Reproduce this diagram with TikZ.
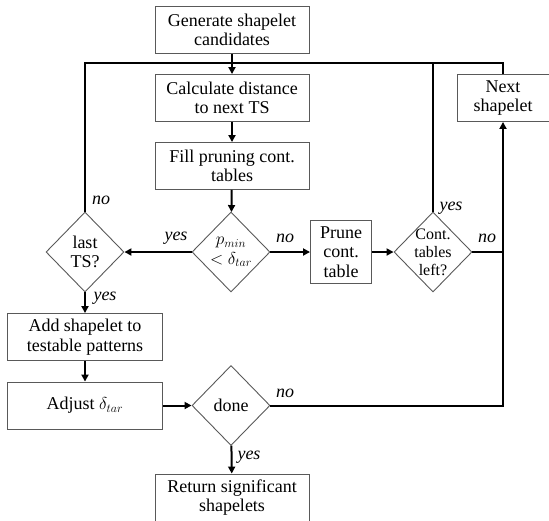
\documentclass[tikz,border=0pt]{standalone}
\usepackage{fontspec}
\setmainfont{Liberation Serif}
\usetikzlibrary{shapes.geometric,arrows.meta,positioning,calc}

\begin{document}
\begin{tikzpicture}[x=1pt, y=-1pt,
    font=\fontsize{18}{19.5}\selectfont, every node/.style={align=center},
    procbox/.style={draw=black!65, line width=0.9pt, minimum width=154pt,
                    minimum height=47pt, inner sep=2pt},
    decision/.style={diamond, draw=black!65, line width=0.9pt, minimum width=78pt,
                     minimum height=80pt, inner sep=-2pt},
    flow/.style={line width=2pt, -{Triangle[length=7pt,width=7pt]}},
    link/.style={line width=2pt},
    ans/.style={font=\fontsize{18}{19.5}\selectfont\itshape, inner sep=0pt}]
  \useasboundingbox (0,0) rectangle (549,520);

  % main column
  \node[procbox] (gen)  at (232,30)  {Generate shapelet\\candidates};
  \node[procbox] (calc) at (232,98)  {Calculate distance\\to next TS};
  \node[procbox] (fill) at (232,166) {Fill pruning cont.\\tables};
  \node[procbox, minimum width=92pt] (next) at (503,98) {Next\\shapelet};

  % decision row
  \node[decision] (last) at (85,252)  {last\\TS?};
  \node[decision] (pmin) at (231,252) {$p_{min}$\\$<\delta_{tar}$};
  \node[procbox, minimum width=61pt, minimum height=63pt] (prune) at (341,252) {Prune\\cont.\\table};
  \node[decision, inner sep=-7pt, font=\fontsize{16}{18}\selectfont] (left) at (433,252) {Cont.\\tables\\left?};

  % lower part
  \node[procbox, minimum width=155pt] (add) at (85,337)   {Add shapelet to\\testable patterns};
  \node[procbox, minimum width=155pt] (adj) at (85,405.5) {Adjust $\delta_{tar}$};
  \node[decision] (done) at (231,405.5) {done};
  \node[procbox] (ret) at (232,497.5) {Return significant\\shapelets};

  \coordinate (bus) at (232,63);

  % loop back to the distance step
  \draw[link] (last.north) -- (last.north |- bus) -| (next.north);
  \draw[link] (left.north) -- (left.north |- bus);
  \draw[flow] (gen) -- (calc);
  \draw[flow] (calc) -- (fill);
  \draw[flow] (fill) -- (pmin);
  \draw[flow] (pmin) -- (last);
  \draw[flow] (pmin) -- (prune);
  \draw[flow] (prune) -- (left);
  \draw[link] (left.east) -- (left.east -| next.south);
  \draw[flow] (done.east) -| (next.south);
  \draw[flow] (last) -- (add);
  \draw[flow] (add) -- (adj);
  \draw[flow] (adj) -- (done);
  \draw[flow] (done) -- (ret);

  % branch labels
  \node[ans] (nolast)  at (101,200) {no};
  \node[ans] (yeslast) at (105,298) {yes};
  \node[ans] (yespmin) at (176,238) {yes};
  \node[ans] (nopmin)  at (285,238) {no};
  \node[ans] (yesleft) at (451,208) {yes};
  \node[ans] (noleft)  at (487,238) {no};
  \node[ans] (nodone)  at (285,393) {no};
  \node[ans] (yesdone) at (249,457) {yes};
\end{tikzpicture}
\end{document}
